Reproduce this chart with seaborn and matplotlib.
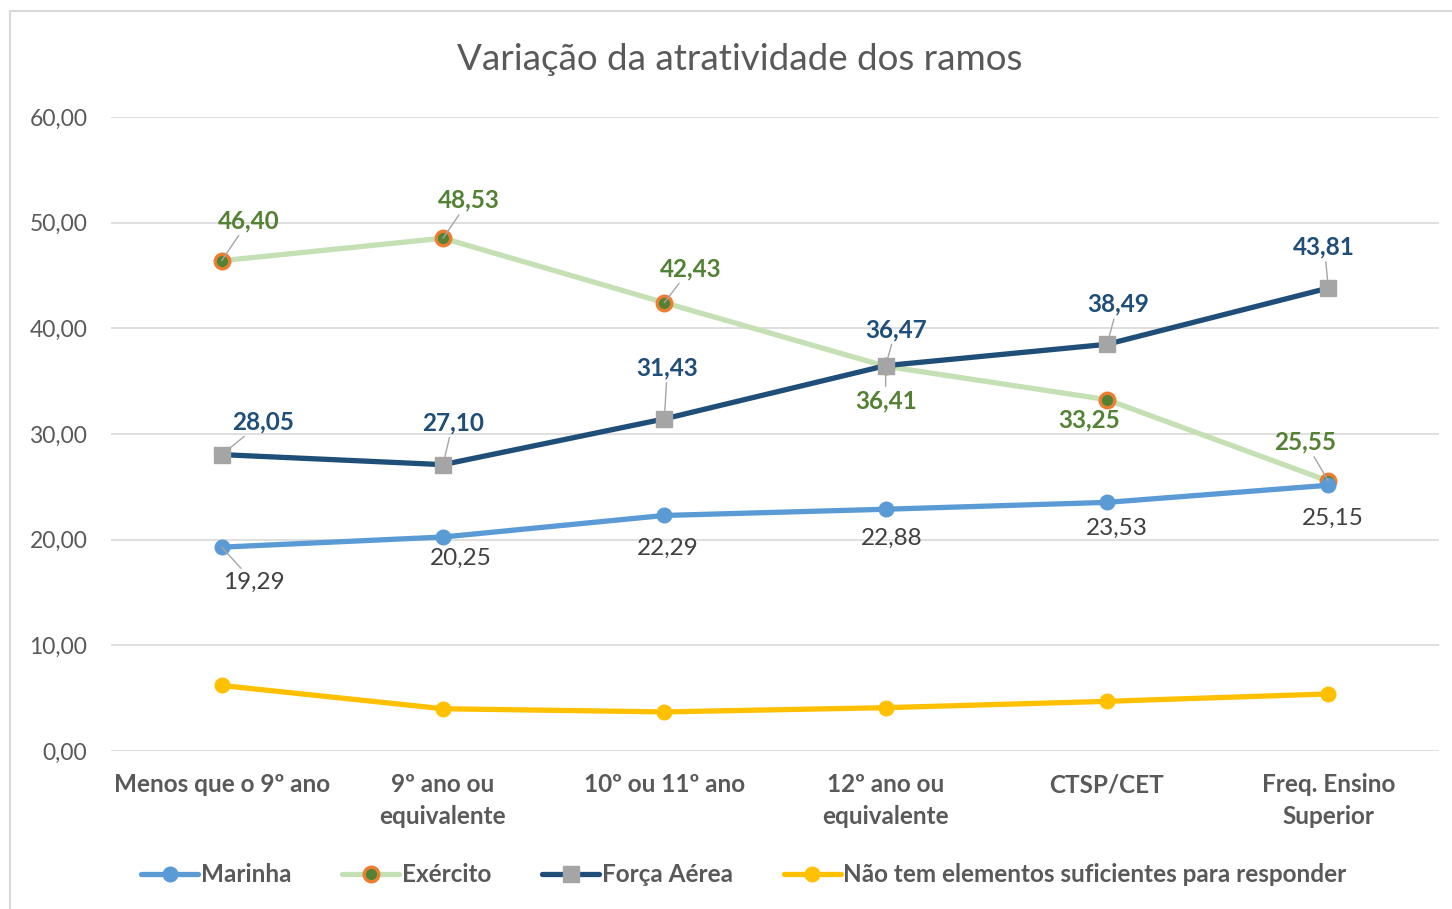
import matplotlib
matplotlib.use("Agg")
import matplotlib.pyplot as plt
from matplotlib.patches import Rectangle
import seaborn as sns
import pandas as pd

# ---------------- data ----------------
categories = ["Menos que o 9º ano", "9º ano ou\nequivalente", "10º ou 11º ano",
              "12º ano ou\nequivalente", "CTSP/CET", "Freq. Ensino\nSuperior"]
marinha = [19.29, 20.25, 22.29, 22.88, 23.53, 25.15]
exercito = [46.40, 48.53, 42.43, 36.41, 33.25, 25.55]
forca_aerea = [28.05, 27.10, 31.43, 36.47, 38.49, 43.81]
nao_tem = [6.2, 4.0, 3.7, 4.1, 4.7, 5.4]
series_names = ["Marinha", "Exército", "Força Aérea",
                "Não tem elementos suficientes para responder"]
y_ticks = [0, 10, 20, 30, 40, 50, 60]

# ---------------- style / layout ----------------
sns.set_theme(style="white")
plt.rcParams["font.family"] = ["Lato", "DejaVu Sans"]

styles = {
    "Marinha": dict(color="#5B9BD5", marker="o", markersize=10.5, mfc="#5B9BD5", mec="#5B9BD5", mew=1),
    "Exército": dict(color="#C5E0B4", marker="o", markersize=10.5, mfc="#548235", mec="#ED7D31", mew=2.4),
    "Força Aérea": dict(color="#1F4E79", marker="s", markersize=11, mfc="#A5A5A5", mec="#A5A5A5", mew=1),
    "Não tem elementos suficientes para responder":
        dict(color="#FFC000", marker="o", markersize=10.5, mfc="#FFC000", mec="#FFC000", mew=1),
}
label_colors = {"Marinha": "#404040", "Exército": "#548235", "Força Aérea": "#1F4E79"}
label_weight = {"Marinha": "normal", "Exército": "bold", "Força Aérea": "bold"}
# label offsets in pixels (dx, dy with y up) and whether a leader line is shown
offsets = {
    "Exército": [(27, 40, True), (26, 38, True), (26, 34, True), (0, -35, True), (-18, -20, False), (-23, 39, True)],
    "Força Aérea": [(41, 33, True), (10, 42, True), (3, 51, True), (10, 36, True), (11, 40, True), (-4, 41, True)],
    "Marinha": [(32, -35, True), (18, -21, False), (3, -33, False), (6, -29, False), (10, -26, False), (4, -33, False)],
}

W, H = 1452, 909
fig = plt.figure(figsize=(W / 100, H / 100), dpi=100)
ax = fig.add_axes([111 / W, 1 - 751 / H, (1439 - 111) / W, (751 - 117) / H])

x = list(range(len(categories)))
values = {"Marinha": marinha, "Exército": exercito, "Força Aérea": forca_aerea,
          series_names[3]: nao_tem}

draw_order = ["Exército", "Marinha", "Força Aérea", series_names[3]]
z = {"Exército": 3, "Marinha": 4, "Força Aérea": 5, series_names[3]: 3}
for name in draw_order:
    df = pd.DataFrame({"x": x, "y": values[name]})
    st = styles[name]
    sns.lineplot(data=df, x="x", y="y", ax=ax, color=st["color"], linewidth=3.8,
                 marker=st["marker"], markersize=st["markersize"],
                 markerfacecolor=st["mfc"], markeredgecolor=st["mec"],
                 markeredgewidth=st["mew"], sort=False, zorder=z[name],
                 label=name, solid_capstyle="round")

# data labels
for name in ["Exército", "Força Aérea", "Marinha"]:
    for i, v in enumerate(values[name]):
        dx, dy, leader = offsets[name][i]
        txt = f"{v:.2f}".replace(".", ",")
        kw = {}
        if leader:
            kw["arrowprops"] = dict(arrowstyle="-", color="#A6A6A6", lw=1.0,
                                    shrinkA=0, shrinkB=0)
        ax.annotate(txt, xy=(i, v), xytext=(dx, dy), textcoords="offset pixels",
                    ha="center", va="center", fontsize=17.5,
                    color=label_colors[name], fontweight=label_weight[name],
                    zorder=10, **kw)

ax.set_xlim(-0.5, 5.5)
ax.set_ylim(0, 60)
ax.set_yticks(y_ticks)
ax.set_yticklabels([f"{t:.2f}".replace(".", ",") for t in y_ticks], fontsize=16.5, color="#595959")
ax.set_xticks(x)
ax.set_xticklabels(categories, fontsize=17.5, color="#595959", fontweight="bold", linespacing=1.45)
ax.tick_params(axis="both", length=0)
ax.tick_params(axis="y", pad=17)
ax.tick_params(axis="x", pad=16)
ax.set_xlabel("")
ax.set_ylabel("")
for s in ax.spines.values():
    s.set_visible(False)
ax.grid(axis="y", color="#D9D9D9", linewidth=1.2, zorder=0)
ax.set_axisbelow(True)

if ax.legend_:
    ax.legend_.remove()
handles, labels = ax.get_legend_handles_labels()
order = [labels.index(n) for n in series_names]
leg = fig.legend([handles[k] for k in order], [labels[k] for k in order],
                 loc="center", bbox_to_anchor=(744 / W, 1 - 875 / H), ncol=4,
                 frameon=False, handlelength=2.35, handletextpad=0.1,
                 columnspacing=2.1, prop=dict(size=17.5, weight="bold"))
for t in leg.get_texts():
    t.set_color("#595959")

fig.text(740 / W, 1 - 60 / H, "Variação da atratividade dos ramos", ha="center", va="center",
         fontsize=26.5, color="#595959")

# outer chart border
fig.patches.append(Rectangle((10 / W, -0.05), 1.2, 1 - 11 / H + 0.05, transform=fig.transFigure,
                             fill=False, edgecolor="#D9D9D9", linewidth=1.5))

fig.savefig("out.png", dpi=100)
